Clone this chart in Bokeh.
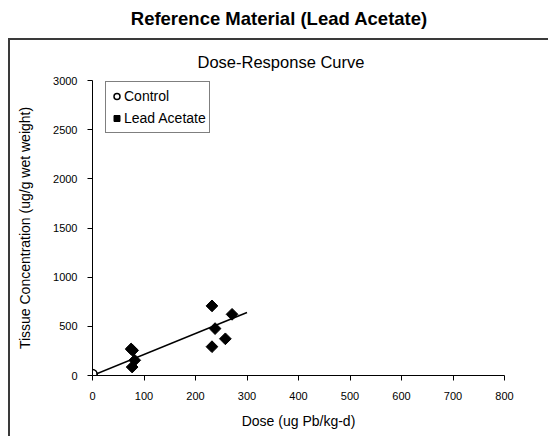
from bokeh.plotting import figure
from bokeh.models import Div, Legend, LegendItem
from bokeh.layouts import column
from bokeh.embed import file_html
from bokeh.resources import INLINE

# ---- data ----
control_dose = [0, 0, 0]
control_conc = [5, 10, 15]

lead_dose = [232, 271, 238, 258, 232, 75, 78, 82, 77]
lead_conc = [708, 622, 477, 373, 293, 270, 255, 155, 86]

trend_dose = [0, 300]
trend_conc = [0, 640]

x_ticks = [0, 100, 200, 300, 400, 500, 600, 700, 800]
y_ticks = [0, 500, 1000, 1500, 2000, 2500, 3000]

FONT = "Liberation Sans"

header = Div(
    text="Reference Material (Lead Acetate)",
    width=542, height=30, margin=(0, 0, 0, 0),
    styles={"font-family": FONT, "font-weight": "bold", "font-size": "18.5px",
            "text-align": "center", "width": "542px", "line-height": "22px",
            "color": "#000000"},
)

p = figure(width=540, height=398, x_range=(0, 800), y_range=(0, 3000),
           output_backend="svg", toolbar_location=None,
           min_border_left=82, min_border_right=46,
           min_border_top=40, min_border_bottom=63, margin=(0, 0, 0, 0))
p.styles = {"border-left": "2px solid #3a3a3a", "border-top": "2px solid #3a3a3a"}

p.title.text = "Dose-Response Curve"
p.title.align = "left"
p.title.offset = 105
p.title.text_font = FONT
p.title.text_font_size = "16.5px"
p.title.text_font_style = "normal"
p.title.text_color = "black"
p.title.text_line_height = 1.0
p.title.standoff = 20

p.outline_line_color = None
p.xgrid.visible = False
p.ygrid.visible = False
p.background_fill_color = "white"
p.border_fill_color = "white"

for ax in (p.xaxis[0], p.yaxis[0]):
    ax.axis_line_color = "black"
    ax.major_tick_line_color = "black"
    ax.minor_tick_line_color = None
    ax.major_tick_in = 0
    ax.major_tick_out = 5
    ax.major_label_text_font = FONT
    ax.major_label_text_font_size = "11px"
    ax.major_label_text_color = "black"
    ax.axis_label_text_font = FONT
    ax.axis_label_text_font_size = "14px"
    ax.axis_label_text_font_style = "normal"
    ax.axis_label_text_color = "black"

p.xaxis.ticker = x_ticks
p.yaxis.ticker = y_ticks
p.xaxis.axis_label = "Dose (ug Pb/kg-d)"
p.yaxis.axis_label = "Tissue Concentration (ug/g wet weight)"
p.xaxis.major_label_standoff = 11
p.yaxis.major_label_standoff = 10
p.xaxis.axis_label_standoff = 10
p.yaxis.axis_label_standoff = 17

p.line(trend_dose, trend_conc, line_color="black", line_width=1.5)
r_ctrl = p.scatter(control_dose, control_conc, marker="circle", size=9,
                   fill_color="white", line_color="black", line_width=1.5)
r_lead = p.scatter(lead_dose, lead_conc, marker="square", angle=0.785398, size=8.3,
                   fill_color="black", line_color="black")

legend = Legend(items=[LegendItem(label="Control", renderers=[r_ctrl]),
                       LegendItem(label="Lead Acetate", renderers=[r_lead])],
                location=(13, 242))
legend.margin = 0
legend.padding = 3
legend.spacing = 0
legend.glyph_width = 15
legend.glyph_height = 22
legend.label_standoff = 0
legend.label_text_font = FONT
legend.label_text_font_size = "14px"
legend.label_text_color = "black"
legend.label_height = 22
legend.border_line_color = "black"
legend.border_line_width = 1
legend.background_fill_alpha = 1
p.add_layout(legend)

layout = column(header, p, spacing=0, margin=(8, 0, 0, 8))
open("out.html", "w").write(file_html(layout, INLINE))
